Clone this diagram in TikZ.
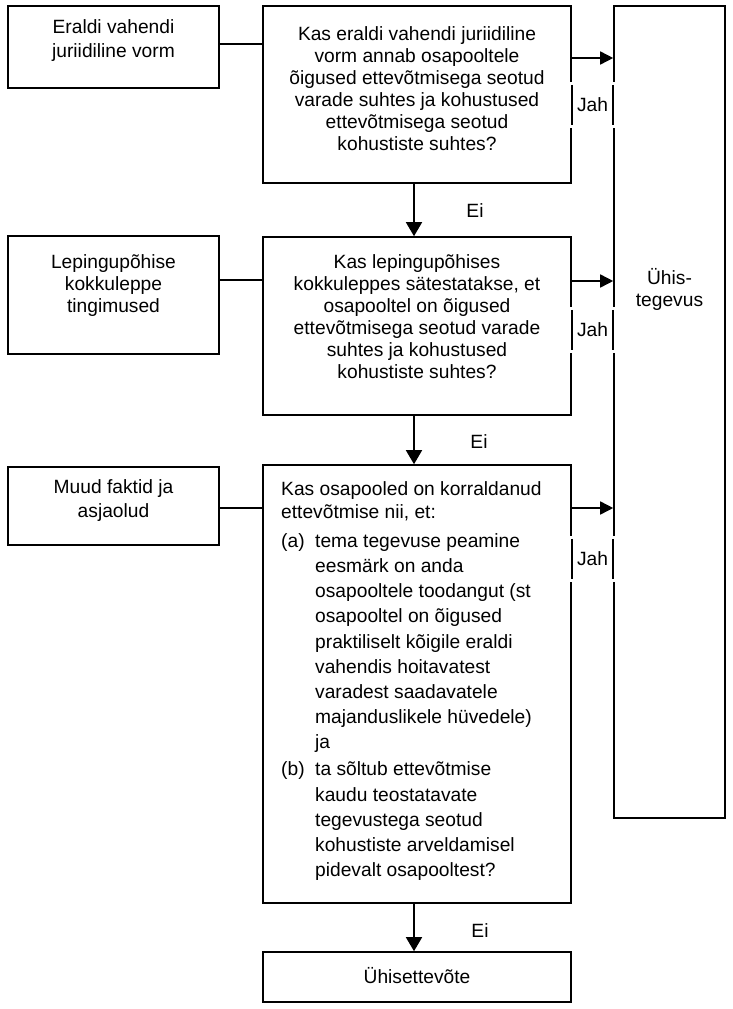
\documentclass[tikz,border=0pt]{standalone}
\usepackage{fontspec}
\setmainfont{Liberation Sans}
\usetikzlibrary{arrows.meta}
\newcommand{\fl}{\rule{0pt}{20pt}}
\newcommand{\ind}{\hspace*{34pt}}
\newcommand{\itm}[1]{\makebox[34pt][l]{#1}}
\begin{document}
\begin{tikzpicture}[x=1pt,y=-1pt,
  box/.style={draw, line width=1.6pt, inner sep=0pt},
  txt/.style={inner sep=0pt, align=center, anchor=north, font=\fontsize{19.2}{22}\selectfont},
  ln/.style={line width=1.6pt},
  arr/.style={line width=1.6pt, -{Triangle[length=13pt,width=13pt]}},
  darr/.style={line width=1.6pt, -{Triangle[length=14pt,width=16pt]}},
  jah/.style={fill=white, inner sep=0pt, minimum width=47pt, minimum height=46pt, font=\fontsize{19.2}{22}\selectfont},
  lbl/.style={inner sep=0pt, anchor=base, font=\fontsize{19.2}{22}\selectfont}]
\fill[white] (0,0) rectangle (733,1009);
\useasboundingbox (0,0) rectangle (733,1009);
% boxes
\node[box, minimum width=211pt, minimum height=82pt] (a) at (113.5,47) {};
\node[box, minimum width=308pt, minimum height=177pt] (q1) at (417,94.5) {};
\node[box, minimum width=111pt, minimum height=812pt] (r) at (669.5,412) {};
\node[box, minimum width=211pt, minimum height=118pt] (b) at (113.5,295) {};
\node[box, minimum width=308pt, minimum height=178pt] (q2) at (417,326) {};
\node[box, minimum width=211pt, minimum height=78pt] (c) at (113.5,506) {};
\node[box, minimum width=308pt, minimum height=438pt] (q3) at (417,684) {};
\node[box, minimum width=308pt, minimum height=50pt] (f) at (417,977) {};
% texts
\node[txt] (ta) at (113.5,13) {\fl Eraldi vahendi\\[2pt]juriidiline vorm};
\node[txt] (tq1) at (417,20) {\fl Kas eraldi vahendi juriidiline\\vorm annab osapooltele\\õigused ettevõtmisega seotud\\varade suhtes ja kohustused\\ettevõtmisega seotud\\kohustiste suhtes?};
\node[txt] (tr) at (669.5,264) {\fl Ühis-\\tegevus};
\node[txt] (tb) at (113.5,248) {\fl Lepingupõhise\\kokkuleppe\\tingimused};
\node[txt] (tq2) at (417,248) {\fl Kas lepingupõhises\\kokkuleppes sätestatakse, et\\osapooltel on õigused\\ettevõtmisega seotud varade\\suhtes ja kohustused\\kohustiste suhtes?};
\node[txt] (tc) at (113.5,473) {\fl Muud faktid ja\\[2pt]asjaolud};
\node[txt, anchor=north west, align=left, font=\fontsize{19.2}{25.2}\selectfont] (tq3) at (281,475) {\fl Kas osapooled on korraldanud\\[-2.2pt]
ettevõtmise nii, et:\\[3.8pt]
\itm{(a)}tema tegevuse peamine\\
\ind eesmärk on anda\\
\ind osapooltele toodangut (st\\
\ind osapooltel on õigused\\
\ind praktiliselt kõigile eraldi\\
\ind vahendis hoitavatest\\
\ind varadest saadavatele\\
\ind majanduslikele hüvedele)\\
\ind ja\\[1.8pt]
\itm{(b)}ta sõltub ettevõtmise\\
\ind kaudu teostatavate\\
\ind tegevustega seotud\\
\ind kohustiste arveldamisel\\
\ind pidevalt osapooltest?};
\node[lbl] (tf) at (417,983) {Ühisettevõte};
% connectors left
\draw[ln] ([yshift=3pt]a.east) -- ([yshift=3pt]a.east -| q1.west);
\draw[ln] ([yshift=15pt]b.east) -- ([yshift=15pt]b.east -| q2.west);
\draw[ln] ([yshift=-2pt]c.east) -- ([yshift=-2pt]c.east -| q3.west);
% arrows right
\draw[arr] ([yshift=36.5pt]q1.east) -- ([yshift=36.5pt]q1.east -| r.west);
\draw[arr] ([yshift=45pt]q2.east) -- ([yshift=45pt]q2.east -| r.west);
\draw[arr] ([yshift=176pt]q3.east) -- ([yshift=176pt]q3.east -| r.west);
% arrows down
\draw[darr] ([xshift=-3pt]q1.south) -- ([xshift=-3pt]q2.north);
\draw[darr] ([xshift=-3pt]q2.south) -- ([xshift=-3pt]q3.north);
\draw[darr] ([xshift=-3pt]q3.south) -- ([xshift=-3pt]f.north);
% Ei labels
\node[lbl] (e1) at (475,217) {Ei};
\node[lbl] (e2) at (479,448) {Ei};
\node[lbl] (e3) at (480,937) {Ei};
% Jah labels
\foreach \n/\y in {j1/105, j2/330, j3/559}{
  \node[jah] (\n) at (592.5,\y) {Jah};
  \draw[ln] ([yshift=-3pt]\n.north -| q1.east) -- ([yshift=3pt]\n.south -| q1.east);
  \draw[ln] ([yshift=-3pt]\n.north -| r.west) -- ([yshift=3pt]\n.south -| r.west);
}
\end{tikzpicture}
\end{document}
